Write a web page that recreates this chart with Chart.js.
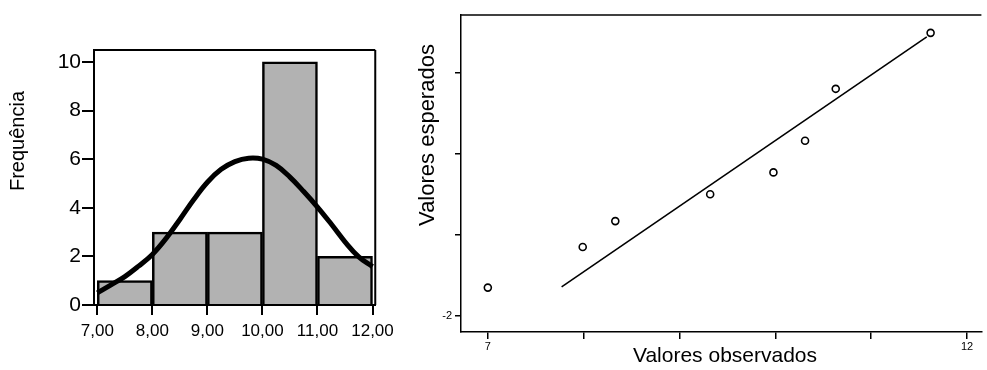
<!DOCTYPE html>
<html lang="pt">
<head>
<meta charset="UTF-8">
<title>Histograma e gráfico Q-Q</title>
<script src="https://cdn.jsdelivr.net/npm/chart.js"></script>
<style>
  body { margin: 0; background: #fff; }
  #wrap { position: relative; width: 987px; height: 370px; overflow: hidden; }
  #histChart { position: absolute; left: 0; top: 0; }
  #qqChart { position: absolute; left: 400px; top: 0; }
</style>
</head>
<body>
<div id="wrap">
  <canvas id="histChart" width="400" height="370"></canvas>
  <canvas id="qqChart" width="587" height="370"></canvas>
</div>
<script>
// histogram
const binCenters = [7.5, 8.5, 9.5, 10.5, 11.5];
const binCounts = [1, 3, 3, 10, 2];
// normal curve, every 0.25
const curveX = [7.0, 7.25, 7.5, 7.75, 8.0, 8.25, 8.5, 8.75, 9.0, 9.25, 9.5, 9.75, 10.0,
                10.25, 10.5, 10.75, 11.0, 11.25, 11.5, 11.75, 12.0];
const curveY = [0.5, 0.83, 1.17, 1.6, 2.08, 2.74, 3.52, 4.33, 5.05, 5.58, 5.9, 6.04, 6.0,
                5.74, 5.26, 4.67, 4.03, 3.33, 2.6, 1.98, 1.58];
const histXTicks = [7, 8, 9, 10, 11, 12];
const histXLabels = ['7,00', '8,00', '9,00', '10,00', '11,00', '12,00'];
const histYTicks = [0, 2, 4, 6, 8, 10];

// Q-Q plot
const obsValues = [7.0, 7.99, 8.33, 9.32, 9.98, 10.31, 10.63, 11.62];
const expValues = [-1.65, -1.15, -0.83, -0.50, -0.23, 0.16, 0.80, 1.49];
const refLineX = [7.77, 11.58];
const refLineY = [-1.64, 1.44];
const qqXTicks = [7, 8, 9, 10, 11, 12];
const qqXLabels = ['7', '', '', '', '', '12'];
const qqYTicks = [-2, -1, 0, 1];
const qqYLabels = ['-2', '', '', ''];

const tickFont = "'Liberation Sans Narrow', 'Liberation Sans', Arial, sans-serif";
const titleFont = "'Liberation Sans', Arial, sans-serif";

// box around the plot area
function framePlugin(sides, width) {
    return {
        id: 'frame',
        afterDraw(chart) {
            const ctx = chart.ctx, a = chart.chartArea;
            ctx.save();
            ctx.strokeStyle = '#000';
            ctx.lineWidth = width;
            ctx.beginPath();
            if (sides.includes('top')) { ctx.moveTo(a.left, a.top); ctx.lineTo(a.right, a.top); }
            if (sides.includes('right')) { ctx.moveTo(a.right, a.top); ctx.lineTo(a.right, a.bottom); }
            ctx.stroke();
            ctx.restore();
        }
    };
}

// axis titles placed like the original (not centred on the axis)
function titlesPlugin(items) {
    return {
        id: 'axisTitles',
        afterDraw(chart) {
            const ctx = chart.ctx;
            items.forEach(t => {
                ctx.save();
                ctx.translate(t.x, t.y);
                ctx.rotate(t.rotate || 0);
                ctx.font = t.font;
                ctx.fillStyle = '#000';
                ctx.textAlign = 'center';
                ctx.textBaseline = 'middle';
                ctx.fillText(t.text, 0, 0);
                ctx.restore();
            });
        }
    };
}

function axisStyle(tickLength, width) {
    return {
        grid: { display: true, offset: false, drawOnChartArea: false, drawTicks: true, tickLength: tickLength, color: '#000', lineWidth: width },
        border: { display: true, color: '#000', width: width }
    };
}

new Chart(document.getElementById('histChart'), {
    type: 'bar',
    data: {
        datasets: [{
            type: 'line',
            data: curveX.map((x, i) => ({ x: x, y: curveY[i] })),
            borderColor: '#000',
            borderWidth: 5,
            pointRadius: 0,
            tension: 0.4,
            fill: false,
            order: 0
        }, {
            type: 'bar',
            data: binCenters.map((x, i) => ({ x: x, y: binCounts[i] })),
            backgroundColor: '#b2b2b2',
            borderColor: '#000',
            borderWidth: 2.5,
            barPercentage: 1,
            categoryPercentage: 1,
            order: 1
        }]
    },
    options: {
        responsive: false,
        animation: false,
        layout: { padding: { left: 0, right: 23, top: 50, bottom: 0 } },
        plugins: { legend: { display: false }, tooltip: { enabled: false } },
        scales: {
            x: {
                type: 'linear',
                min: 6.94,
                max: 12.05,
                offset: false,
                ...axisStyle(10, 2),
                afterBuildTicks: s => { s.ticks = histXTicks.map(v => ({ value: v })); },
                afterFit: s => { s.height = 65; },
                ticks: {
                    color: '#000',
                    font: { family: tickFont, size: 17 },
                    padding: 6,
                    maxRotation: 0,
                    autoSkip: false,
                    callback: (v, i) => histXLabels[i]
                }
            },
            y: {
                min: 0,
                max: 10.49,
                ...axisStyle(12, 2),
                afterBuildTicks: s => { s.ticks = histYTicks.map(v => ({ value: v })); },
                afterFit: s => { s.width = 94; },
                ticks: {
                    color: '#000',
                    font: { family: tickFont, size: 21 },
                    padding: 1,
                    callback: v => String(v)
                }
            }
        }
    },
    plugins: [
        framePlugin(['top', 'right'], 2),
        titlesPlugin([{ text: 'Frequência', x: 18, y: 141, rotate: -Math.PI / 2, font: '20px ' + titleFont }])
    ]
});

new Chart(document.getElementById('qqChart'), {
    type: 'scatter',
    data: {
        datasets: [{
            data: obsValues.map((x, i) => ({ x: x, y: expValues[i] })),
            pointRadius: 3.5,
            pointBorderWidth: 1.6,
            pointBackgroundColor: '#fff',
            pointBorderColor: '#000',
            showLine: false
        }, {
            type: 'line',
            data: refLineX.map((x, i) => ({ x: x, y: refLineY[i] })),
            borderColor: '#000',
            borderWidth: 1.6,
            pointRadius: 0,
            fill: false
        }]
    },
    options: {
        responsive: false,
        animation: false,
        layout: { padding: { left: 0, right: 0, top: 15, bottom: 0 } },
        plugins: { legend: { display: false }, tooltip: { enabled: false } },
        scales: {
            x: {
                type: 'linear',
                min: 6.72,
                max: 12.15,
                ...axisStyle(7, 1.5),
                afterBuildTicks: s => { s.ticks = qqXTicks.map(v => ({ value: v })); },
                afterFit: s => { s.height = 38; },
                ticks: {
                    color: '#000',
                    font: { family: titleFont, size: 11 },
                    padding: 1,
                    maxRotation: 0,
                    autoSkip: false,
                    callback: (v, i) => qqXLabels[i]
                }
            },
            y: {
                min: -2.197,
                max: 1.71,
                ...axisStyle(6, 1.5),
                afterBuildTicks: s => { s.ticks = qqYTicks.map(v => ({ value: v })); },
                afterFit: s => { s.width = 61; },
                ticks: {
                    color: '#000',
                    font: { family: titleFont, size: 11 },
                    padding: 3,
                    callback: (v, i) => qqYLabels[i]
                }
            }
        }
    },
    plugins: [
        framePlugin(['top'], 1.5),
        titlesPlugin([
            { text: 'Valores esperados', x: 28, y: 135, rotate: -Math.PI / 2, font: '22px ' + titleFont },
            { text: 'Valores observados', x: 325, y: 356, font: '21px ' + titleFont }
        ])
    ]
});
</script>
</body>
</html>
